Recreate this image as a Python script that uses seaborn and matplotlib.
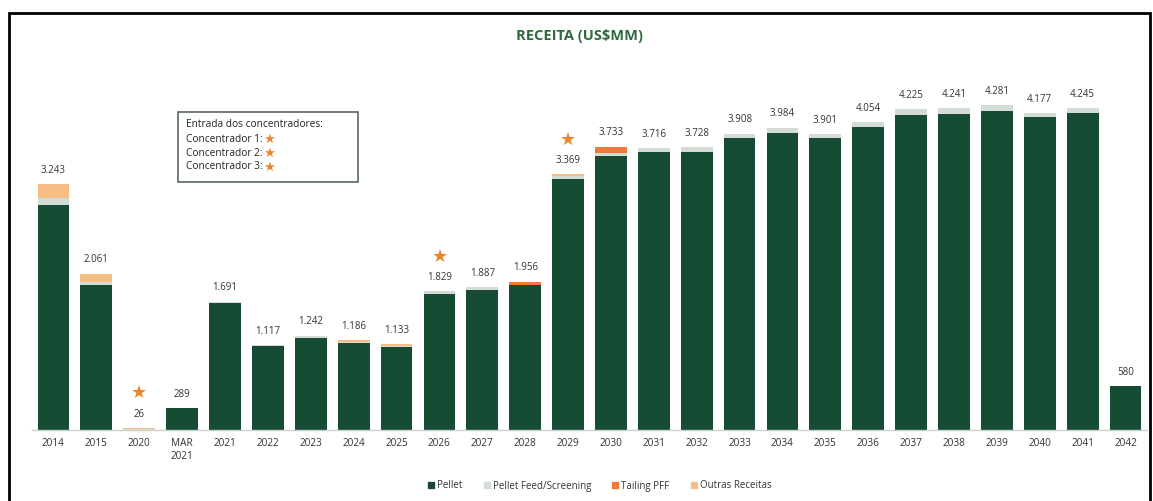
import matplotlib
matplotlib.use("Agg")
import matplotlib.pyplot as plt
from matplotlib.lines import Line2D
from matplotlib.patches import Rectangle
import seaborn as sns
import pandas as pd
import numpy as np

# ---- data ----
categories = ["2014", "2015", "2020", "MAR\n2021", "2021", "2022", "2023", "2024", "2025",
              "2026", "2027", "2028", "2029", "2030", "2031", "2032", "2033", "2034",
              "2035", "2036", "2037", "2038", "2039", "2040", "2041", "2042"]
totals = [3243, 2061, 26, 289, 1691, 1117, 1242, 1186, 1133, 1829, 1887, 1956, 3369,
          3733, 3716, 3728, 3908, 3984, 3901, 4054, 4225, 4241, 4281, 4177, 4245, 580]
pellet = [2970, 1916, 6, 289, 1680, 1105, 1215, 1150, 1095, 1790, 1845, 1905, 3305,
          3613, 3660, 3670, 3850, 3920, 3850, 4000, 4155, 4170, 4200, 4120, 4175, 580]
pellet_feed = [90, 40, 10, 0, 11, 12, 27, 10, 15, 39, 42, 11, 44,
               40, 56, 58, 58, 64, 51, 54, 70, 71, 81, 57, 70, 0]
tailing = [0, 0, 0, 0, 0, 0, 0, 0, 0, 0, 0, 40, 0,
           80, 0, 0, 0, 0, 0, 0, 0, 0, 0, 0, 0, 0]
outras = [183, 105, 10, 0, 0, 0, 0, 26, 23, 0, 0, 0, 20,
          0, 0, 0, 0, 0, 0, 0, 0, 0, 0, 0, 0, 0]
star_categories = ["2020", "2026", "2029"]
series_names = ["Pellet", "Pellet Feed/Screening", "Tailing PFF", "Outras Receitas"]
colors = ["#164b34", "#d3ddd5", "#ec7a3a", "#f6bd85"]
title = "RECEITA (US$MM)"
box_lines = ["Entrada dos concentradores:", "Concentrador 1:", "Concentrador 2:", "Concentrador 3:"]

# ---- frame ----
df = pd.DataFrame({"cat": categories, "pellet": pellet, "feed": pellet_feed,
                   "tailing": tailing, "outras": outras, "total": totals})
df["c1"] = df["pellet"]
df["c2"] = df["c1"] + df["feed"]
df["c3"] = df["c2"] + df["tailing"]
df["c4"] = df["c3"] + df["outras"]

sns.set_theme(style="white")
plt.rcParams["font.family"] = ["Open Sans", "DejaVu Sans"]

W, H = 1153, 501
fig = plt.figure(figsize=(W / 100, H / 100), dpi=100)
ax = fig.add_axes([32 / W, 1 - 430 / H, 1115 / W, 349 / H])

for col, c in zip(["c4", "c3", "c2", "c1"], colors[::-1]):
    sns.barplot(data=df, x="cat", y=col, order=categories, color=c, width=0.74,
                saturation=1, ax=ax, errorbar=None, edgecolor="none")

ax.set_xlim(-0.5, len(categories) - 0.5)
ax.set_ylim(0, 4600)
ax.set_xlabel("")
ax.set_ylabel("")
ax.set_yticks([])
for s in ["left", "right", "top"]:
    ax.spines[s].set_visible(False)
ax.spines["bottom"].set_color("#d0d0d0")
ax.spines["bottom"].set_linewidth(1)
ax.tick_params(axis="x", length=0, pad=6, labelsize=7.2, labelcolor="#333333")

for i, t in enumerate(totals):
    lab = f"{t:,}".replace(",", ".")
    ax.annotate(lab, xy=(i, df["c4"][i]), xytext=(0, 6), textcoords="offset points",
                ha="center", va="bottom", fontsize=7, color="#333333")
    if categories[i] in star_categories:
        ax.annotate("★", xy=(i, df["c4"][i]), xytext=(0, 25), textcoords="offset points",
                    ha="center", va="center", fontsize=13, color="#e8862e",
                    family="DejaVu Sans")

# title
fig.text(580 / W, 1 - 36 / H, title.replace("$", r"\$"), ha="center", va="center",
         fontsize=10.5, fontweight="bold", color="#2d6a3e")

# annotation box
fig.add_artist(Rectangle((178 / W, 1 - 182 / H), 180 / W, 70 / H, transform=fig.transFigure,
                         facecolor="white", edgecolor="#5a6a62", linewidth=1.2))
renderer = fig.canvas.get_renderer()
ys = [125, 139, 153, 167]
for k, (line, y) in enumerate(zip(box_lines, ys)):
    t = fig.text(186 / W, 1 - y / H, line, ha="left", va="center", fontsize=7.3, color="#222222")
    if k > 0:
        bb = t.get_window_extent(renderer=renderer)
        fig.text((bb.x1 + 1) / W, 1 - y / H, "★", ha="left", va="center", fontsize=9.5,
                 color="#e8862e", family="DejaVu Sans")

# legend
handles = [Line2D([0], [0], marker="s", linestyle="none", markersize=5,
                  markerfacecolor=c, markeredgecolor=c) for c in colors]
fig.legend(handles, series_names, loc="center", bbox_to_anchor=(600 / W, 1 - 486 / H),
           ncol=4, frameon=False, fontsize=7, handlelength=0.6, handletextpad=0.3,
           columnspacing=2.2, labelcolor="#333333")

# outer border
fig.add_artist(Rectangle((9 / W, -0.1), (1150 - 9) / W, 1.1 - 13 / H, transform=fig.transFigure,
                         facecolor="none", edgecolor="black", linewidth=2, clip_on=False))

fig.savefig("out.png", dpi=100)
